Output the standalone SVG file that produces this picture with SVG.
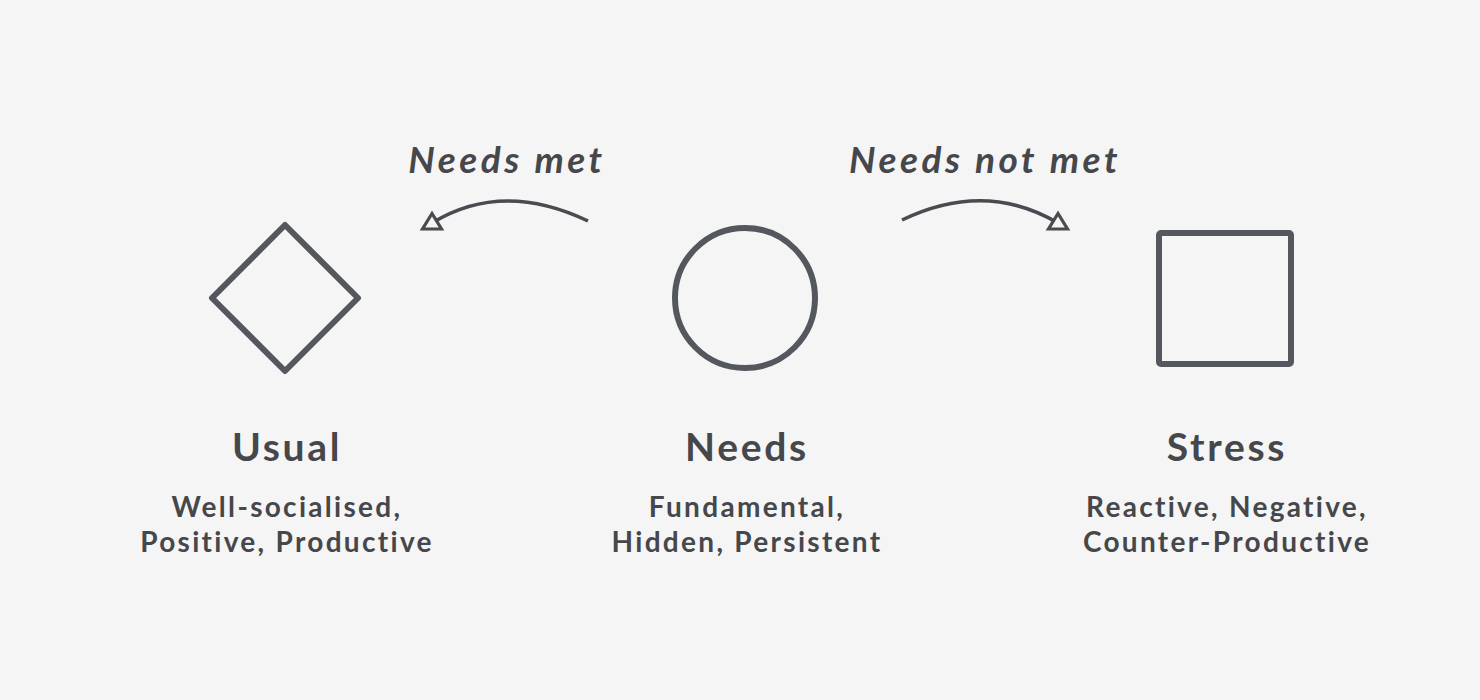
<svg xmlns="http://www.w3.org/2000/svg" width="1480" height="700" viewBox="0 0 1480 700">
<style>
.shape{fill:none;stroke:#54585e;stroke-width:6;stroke-linejoin:round}
.conn{fill:none;stroke:#4a4b50;stroke-width:3.5}
.lbl{font-family:Lato,"Open Sans",sans-serif;font-style:italic;font-weight:700;font-size:37px;fill:#46474b;text-anchor:middle;letter-spacing:3.5px}
.title{font-family:Lato,"Open Sans",sans-serif;font-weight:700;font-size:39px;fill:#46474b;text-anchor:middle;letter-spacing:2.7px}
.sub{font-family:Lato,"Open Sans",sans-serif;font-weight:700;font-size:28px;fill:#46474b;text-anchor:middle;letter-spacing:2.3px}
</style>
<defs>
<marker id="tri" markerUnits="userSpaceOnUse" markerWidth="30" markerHeight="30" viewBox="-15 -15 30 30" refX="0" refY="0" orient="0" overflow="visible">
<polygon points="0,-9.5 -9.5,6 9.5,6" fill="#f5f5f5" stroke="#4a4b50" stroke-width="3.2" stroke-linejoin="miter"/>
</marker>
</defs>
<rect width="1480" height="700" fill="#f5f5f5"/>
<g id="connectors">
<path class="conn" d="M588,221 Q502,180 432,223" marker-end="url(#tri)"/>
<path class="conn" d="M902,220 Q985,180 1058,223" marker-end="url(#tri)"/>
<text class="lbl" x="507" y="173">Needs met</text>
<text class="lbl" x="985" y="173">Needs not met</text>
</g>
<g id="usual">
<polygon class="shape" points="285,225 358,298 285,371 212,298"/>
<text class="title" x="287" y="461">Usual</text>
<text class="sub" x="287" y="517">Well-socialised,</text>
<text class="sub" x="287" y="552">Positive, Productive</text>
</g>
<g id="needs">
<circle class="shape" cx="745" cy="298" r="70"/>
<text class="title" x="747" y="461">Needs</text>
<text class="sub" x="747" y="517">Fundamental,</text>
<text class="sub" x="747" y="552">Hidden, Persistent</text>
</g>
<g id="stress">
<rect class="shape" x="1159" y="233" width="132" height="131" rx="2"/>
<text class="title" x="1227" y="461">Stress</text>
<text class="sub" x="1227" y="517">Reactive, Negative,</text>
<text class="sub" x="1227" y="552">Counter-Productive</text>
</g>
</svg>
